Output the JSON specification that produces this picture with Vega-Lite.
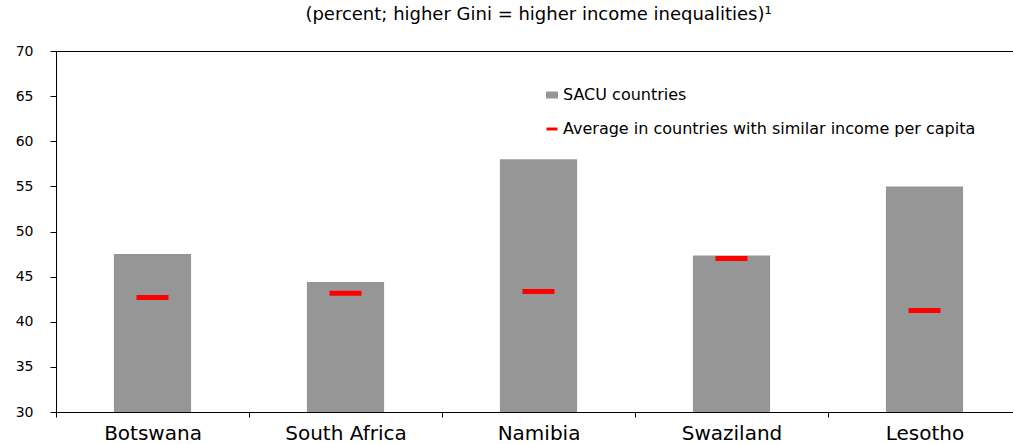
{
  "$schema": "https://vega.github.io/schema/vega-lite/v6.json",
  "width": 965,
  "height": 361,
  "autosize": "none",
  "padding": {"left": 56, "top": 51, "right": 0, "bottom": 33},
  "background": "white",
  "title": {
    "text": "(percent; higher Gini = higher income inequalities)¹",
    "anchor": "middle",
    "dx": 0,
    "offset": 20,
    "font": "DejaVu Sans",
    "fontSize": 18,
    "fontWeight": "normal",
    "color": "black"
  },
  "data": {
    "values": [
      {"country": "Botswana", "sacu": 47.5, "avg": 42.7},
      {"country": "South Africa", "sacu": 44.4, "avg": 43.15},
      {"country": "Namibia", "sacu": 58.0, "avg": 43.35},
      {"country": "Swaziland", "sacu": 47.35, "avg": 47.0},
      {"country": "Lesotho", "sacu": 55.0, "avg": 41.25}
    ]
  },
  "encoding": {
    "x": {
      "field": "country",
      "type": "nominal",
      "sort": null,
      "scale": {"paddingInner": 0, "paddingOuter": 0},
      "axis": {
        "title": null,
        "labelAngle": 0,
        "tickBand": "extent",
        "tickSize": 5,
        "tickColor": "black",
        "domainColor": "black",
        "labelFont": "DejaVu Sans",
        "labelFontSize": 20,
        "labelColor": "black",
        "labelPadding": 6
      }
    }
  },
  "layer": [
    {
      "mark": {"type": "bar", "width": {"band": 0.4}, "color": "#969696"},
      "encoding": {
        "y": {
          "field": "sacu",
          "type": "quantitative",
          "scale": {"domain": [30, 70], "zero": false, "nice": false},
          "axis": {
            "title": null,
            "values": [30, 35, 40, 45, 50, 55, 60, 65, 70],
            "tickSize": 6,
            "tickColor": "black",
            "domainColor": "black",
            "labelFont": "DejaVu Sans",
            "labelFontSize": 14,
            "labelColor": "black",
            "labelPadding": 17,
            "grid": true,
            "gridColor": "black",
            "gridOpacity": {"condition": {"test": "datum.value == 70", "value": 1}, "value": 0}
          }
        },
        "y2": {"datum": 30},
        "fill": {
          "datum": "SACU countries",
          "type": "nominal",
          "scale": {"range": ["#969696"]},
          "legend": {
            "title": null,
            "orient": "none",
            "legendX": 488,
            "legendY": 36,
            "padding": 0,
            "symbolType": "M-1,-0.58H1V0.58H-1Z",
            "symbolSize": 144,
            "symbolStrokeWidth": 0,
            "symbolOpacity": 1,
            "labelOffset": 3,
            "labelLimit": 0,
            "labelFont": "DejaVu Sans",
            "labelFontSize": 16,
            "labelColor": "black"
          }
        }
      }
    },
    {
      "mark": {"type": "tick", "size": 32, "thickness": 5, "color": "#ff0000", "opacity": 1},
      "encoding": {
        "y": {"field": "avg", "type": "quantitative"},
        "color": {
          "datum": "Average in countries with similar income per capita",
          "type": "nominal",
          "scale": {"range": ["#ff0000"]},
          "legend": {
            "title": null,
            "orient": "none",
            "legendX": 488,
            "legendY": 70,
            "padding": 0,
            "symbolType": "M-1,-0.27H1V0.27H-1Z",
            "symbolSize": 121,
            "symbolStrokeWidth": 0,
            "symbolFillColor": "#ff0000",
            "symbolOpacity": 1,
            "labelOffset": 3,
            "labelLimit": 0,
            "labelFont": "DejaVu Sans",
            "labelFontSize": 16,
            "labelColor": "black"
          }
        }
      }
    }
  ],
  "resolve": {"scale": {"color": "independent", "fill": "independent"}, "legend": {"color": "independent", "fill": "independent"}},
  "config": {"view": {"stroke": null}}
}
